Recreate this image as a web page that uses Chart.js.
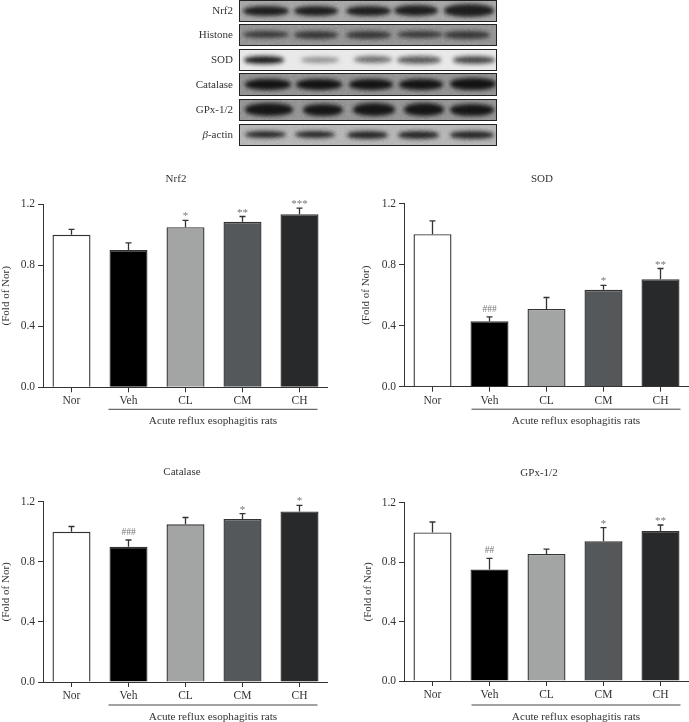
<!DOCTYPE html>
<html>
<head>
<meta charset="utf-8">
<script src="https://cdn.jsdelivr.net/npm/chart.js@4"></script>
<style>
html,body{margin:0;padding:0;background:#fff;width:689px;height:722px;overflow:hidden}
canvas{position:absolute;display:block}
.lab{position:absolute;font:11px "Liberation Serif",serif;color:#333;text-align:right;width:60px;white-space:nowrap}
.blot{position:absolute;border:1.5px solid #222;box-sizing:border-box;overflow:hidden}
.band{position:absolute;border-radius:45%;filter:blur(2.2px)}
.grain{position:absolute;left:0;top:0;width:100%;height:100%;opacity:.28;mix-blend-mode:overlay}
</style>
</head>
<body>
<svg width="0" height="0" style="position:absolute"><filter id="grainF"><feTurbulence type="fractalNoise" baseFrequency="0.45" numOctaves="2" seed="3"/><feColorMatrix type="saturate" values="0"/></filter></svg>
<script>
// ---------- chart data ----------
const categories = ["Nor", "Veh", "CL", "CM", "CH"];
const yTicks = [0, 0.4, 0.8, 1.2];
const yTitle = "(Fold of Nor)";
const groupLabel = "Acute reflux esophagitis rats";

const nrf2Values = [1.0, 0.90, 1.05, 1.085, 1.135];
const nrf2Upper  = [1.035, 0.947, 1.095, 1.12, 1.175];
const nrf2Marks  = ["", "", "*", "**", "***"];

const sodValues = [1.0, 0.43, 0.51, 0.635, 0.705];
const sodUpper  = [1.087, 0.458, 0.585, 0.665, 0.775];
const sodMarks  = ["", "###", "", "*", "**"];

const catalaseValues = [1.0, 0.90, 1.05, 1.085, 1.135];
const catalaseUpper  = [1.035, 0.945, 1.095, 1.12, 1.175];
const catalaseMarks  = ["", "###", "", "*", "*"];

const gpxValues = [1.0, 0.75, 0.855, 0.94, 1.01];
const gpxUpper  = [1.07, 0.825, 0.888, 1.032, 1.05];
const gpxMarks  = ["", "##", "", "*", "**"];

const barColors = ["#ffffff", "#000000", "#a3a5a4", "#54585a", "#28292a"];
const FONT = '"Liberation Serif", serif';
const INK = "#333333";

// ---------- blot panels (illustrative bands, not chart data) ----------
const blotRows = [
  {name:"Nrf2", top:0, h:22, bg:"#a2a2a2", c:"#1c1c1c", bands:[[26,46,10],[76,44,10],[128,45,10],[176,44,11],[229,50,13]]},
  {name:"Histone", top:24, h:22, bg:"#8e8e8e", c:"#333", bands:[[26,46,7],[76,44,8],[128,45,8],[180,46,7],[227,46,8]]},
  {name:"SOD", top:49, h:22, bg:"#e8e8e8", c:"#1a1a1a", bands:[[24,40,8],[80,38,6,"#8a8a8a"],[133,38,7,"#666"],[179,44,8,"#555"],[234,42,8,"#444"]]},
  {name:"Catalase", top:73, h:23, bg:"#8c8c8c", c:"#111", bands:[[28,46,11],[79,46,11],[131,44,11],[181,44,11],[233,46,12]]},
  {name:"GPx-1/2", top:99, h:22, bg:"#8f8f8f", c:"#141414", bands:[[29,48,13],[83,40,12],[134,42,13],[184,40,13],[232,44,12]]},
  {name:"β-actin", top:124, h:22, bg:"#b2b2b2", c:"#222", bands:[[25,41,7],[75,40,7],[127,41,8],[178,41,8],[232,44,8]]}
];
blotRows.forEach(r => {
  const lab = document.createElement("div");
  lab.className = "lab";
  lab.style.left = "173px";
  lab.style.top = (r.top + r.h/2 - 7) + "px";
  if (r.name === "β-actin") lab.innerHTML = "<i>β</i>-actin"; else lab.textContent = r.name;
  document.body.appendChild(lab);
  const b = document.createElement("div");
  b.className = "blot";
  b.style.cssText = `left:239px;top:${r.top}px;width:258px;height:${r.h}px;background:${r.bg}`;
  r.bands.forEach(([cx,w,bh,col]) => {
    const s = document.createElement("div");
    s.className = "band";
    s.style.cssText = `left:${cx-w/2}px;top:${(r.h-3-bh)/2}px;width:${w}px;height:${bh}px;background:${col||r.c}`;
    b.appendChild(s);
  });
  const g = document.createElementNS("http://www.w3.org/2000/svg", "svg");
  g.setAttribute("class", "grain");
  g.innerHTML = '<rect width="100%" height="100%" filter="url(#grainF)"/>';
  b.appendChild(g);
  document.body.appendChild(b);
});

// ---------- plugin: error bars, significance marks, titles, group line ----------
const annotate = {
  id: "annotate",
  afterDatasetsDraw(chart, args, o) {
    const {ctx, scales:{x, y}} = chart;
    ctx.save();
    ctx.strokeStyle = INK;
    ctx.lineWidth = 1.3;
    o.upper.forEach((u, i) => {
      const px = x.getPixelForValue(i), top = y.getPixelForValue(u), base = y.getPixelForValue(o.values[i]);
      ctx.beginPath();
      ctx.moveTo(px, base); ctx.lineTo(px, top);
      ctx.moveTo(px - 3, top); ctx.lineTo(px + 3, top);
      ctx.stroke();
      if (o.marks[i]) {
        ctx.fillStyle = "#777";
        ctx.font = (o.marks[i][0] === "#" ? "9.5px " : "11px ") + FONT;
        ctx.textAlign = "center";
        ctx.textBaseline = "alphabetic";
        const dy = o.marks[i][0] === "#" ? 5 : 1;
        ctx.fillText(o.marks[i], px, top - dy);
      }
    });
    // title
    ctx.fillStyle = INK;
    ctx.textAlign = "center";
    ctx.textBaseline = "middle";
    ctx.font = "11px " + FONT;
    ctx.fillText(o.title, o.titleX, o.titleY);
    // group bracket and label
    const x1 = x.getPixelForValue(1) + o.line[0], x2 = x.getPixelForValue(4) + o.line[1];
    const ly = y.bottom + o.lineDy;
    ctx.strokeStyle = "#444";
    ctx.lineWidth = 1;
    ctx.beginPath(); ctx.moveTo(x1, ly); ctx.lineTo(x2, ly); ctx.stroke();
    ctx.fillStyle = INK;
    ctx.font = "11.2px " + FONT;
    ctx.fillText(groupLabel, (x1 + x2) / 2, ly + 12);
    ctx.restore();
  }
};

function panel(p) {
  const cv = document.createElement("canvas");
  cv.width = p.w; cv.height = p.h;
  cv.style.left = p.left + "px"; cv.style.top = p.top + "px";
  cv.style.width = p.w + "px"; cv.style.height = p.h + "px";
  document.body.appendChild(cv);
  new Chart(cv, {
    type: "bar",
    data: {
      labels: categories,
      datasets: [{
        data: p.values,
        backgroundColor: barColors,
        borderColor: INK,
        borderWidth: 1.4,
        barPercentage: 0.667,
        categoryPercentage: 1
      }]
    },
    plugins: [annotate],
    options: {
      responsive: false,
      animation: false,
      devicePixelRatio: 1,
      layout: {padding: {top: p.plotTop - p.top, left: 0, right: 0, bottom: 0}},
      plugins: {
        legend: {display: false},
        tooltip: {enabled: false},
        annotate: {
          values: p.values, upper: p.upper, marks: p.marks, title: p.title,
          titleX: p.titleX - p.left, titleY: p.titleY - p.top, line: p.line, lineDy: p.lineDy
        }
      },
      scales: {
        x: {
          type: "category",
          afterFit(s) { s.height = p.top + p.h - p.plotBottom; },
          grid: {display: true, drawOnChartArea: false, drawTicks: true, tickLength: 5, color: INK, lineWidth: 1, offset: false},
          border: {display: true, color: INK, width: 1},
          ticks: {color: INK, font: {family: FONT, size: 11.5}, padding: 2, maxRotation: 0, autoSkip: false}
        },
        y: {
          min: 0, max: 1.2,
          afterFit(s) { s.width = p.axisX - p.left; },
          afterBuildTicks(s) { s.ticks = yTicks.map(v => ({value: v})); },
          grid: {display: true, drawOnChartArea: false, drawTicks: true, tickLength: 5, color: INK, lineWidth: 1},
          border: {display: true, color: INK, width: 1},
          ticks: {color: INK, font: {family: FONT, size: 11.5}, padding: 3, callback: v => Number(v).toFixed(1)},
          title: {display: true, text: yTitle, color: INK, font: {family: FONT, size: 11}, padding: {top: p.yTitlePad, bottom: 0}}
        }
      }
    }
  });
}

panel({title:"Nrf2", values:nrf2Values, upper:nrf2Upper, marks:nrf2Marks,
  left:0, top:165, w:328, h:265, axisX:43, plotTop:204.3, plotBottom:387.3, titleX:176, titleY:179, line:[-20,18], lineDy:22, yTitlePad:0});
panel({title:"SOD", values:sodValues, upper:sodUpper, marks:sodMarks,
  left:345, top:165, w:344, h:265, axisX:404, plotTop:203.7, plotBottom:386.7, titleX:542, titleY:179, line:[-18,20], lineDy:22.5, yTitlePad:15});
panel({title:"Catalase", values:catalaseValues, upper:catalaseUpper, marks:catalaseMarks,
  left:0, top:462, w:328, h:260, axisX:43, plotTop:501.7, plotBottom:682, titleX:182, titleY:472, line:[-20,18], lineDy:23, yTitlePad:0});
panel({title:"GPx-1/2", values:gpxValues, upper:gpxUpper, marks:gpxMarks,
  left:345, top:462, w:344, h:260, axisX:404, plotTop:502.7, plotBottom:681, titleX:539, titleY:473, line:[-18,20], lineDy:24, yTitlePad:17});
</script>
</body>
</html>
